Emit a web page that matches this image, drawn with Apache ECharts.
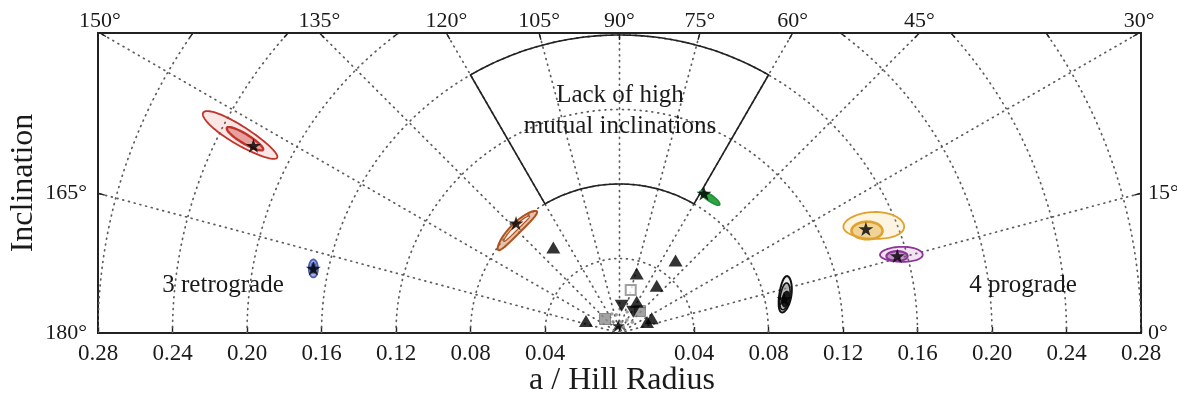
<!DOCTYPE html>
<html><head><meta charset="utf-8">
<script src="https://cdn.jsdelivr.net/npm/echarts@6/dist/echarts.min.js"></script>
<style>html,body{margin:0;padding:0;background:#fff}#c{width:1177px;height:399px}</style>
</head><body><div id="c"></div>
<script>
const FONT = "'Liberation Serif','Times New Roman',serif";
const TXT = '#1a1a1a';

// axes / ticks
const xMin = -0.28, xMax = 0.28, xInterval = 0.04;
const yMax = 0.16107;
const radiusTicks = [0.04, 0.08, 0.12, 0.16, 0.20, 0.24, 0.28];
const angleTicks = [0, 15, 30, 45, 60, 75, 90, 105, 120, 135, 150, 165, 180];

// region lacking high mutual inclinations: [a_in, a_out, inc_min, inc_max]
const gapRegion = [[0.08, 0.16, 60, 120]];

// confidence contours: [a, inclination, half-range a, half-range inc (deg), correlation]
const redContours    = [[0.2297, 152.5, 0.0232, 1.30, -0.29], [0.2265, 152.6, 0.0113, 0.66, -0.28]];
const blueContours   = [[0.1680, 168.1, 0.0026, 1.62, -0.29], [0.1680, 168.0, 0.0015, 0.95, -0.29]];
const brownContours  = [[0.0789, 134.9, 0.0028, 10.7, 0.0], [0.0792, 134.6, 0.0012, 7.0, 0.0]];
const greenContours  = [[0.0873, 56.2, 0.0017, 4.2, 0.0]];
const yellowContours = [[0.1481, 22.94, 0.0153, 3.55, -0.55], [0.1438, 22.5, 0.0079, 2.15, -0.39]];
const purpleContours = [[0.1571, 15.6, 0.0111, 1.80, -0.54], [0.1546, 15.5, 0.0055, 1.09, -0.40]];
const blackContours  = [[0.0914, 13.0, 0.0047, 5.8, 0.68], [0.0910, 12.4, 0.0036, 4.3, 0.66], [0.0912, 11.5, 0.0024, 2.5, 0.5]];

// best fits (stars) and other systems: [a, inclination]
const stars = [[0.2208, 152.9], [0.1680, 168.1], [0.0810, 133.3], [0.0876, 58.8], [0.1436, 22.9], [0.1548, 15.5], [0.0902, 11.7]];
const triUp = [[0.0581, 127.7], [0.0492, 52.3], [0.0333, 73.9], [0.0323, 51.8], [0.0192, 61.2], [0.0191, 160.3], [0.0190, 24.5], [0.0159, 21.8]];
const triDown = [[0.0147, 85.4], [0.0136, 57.1]];
const squaresGray = [[0.0108, 136.0], [0.0161, 47.0]];
const squaresOpen = [[0.0239, 75.4]];
const grayDots = [[0.006, 80], [0.008, 60], [0.010, 100], [0.012, 70], [0.007, 120], [0.009, 40], [0.005, 95], [0.011, 112], [0.004, 60], [0.013, 88]];
const centerStars = [[0.0040, 100]];

const STAR = 'path://M0,-1L0.2245,-0.309L0.951,-0.309L0.363,0.118L0.588,0.809L0,0.382L-0.588,0.809L-0.363,0.118L-0.951,-0.309L-0.2245,-0.309Z';

function contourSeries(data, stroke, fills, widths, z) {
  return {
    type: 'custom', coordinateSystem: 'polar', polarIndex: 0, z: z || 5, silent: true,
    data: data,
    renderItem: function (params, api) {
      const r0 = api.value(0), t0 = api.value(1), dr = api.value(2), dt = api.value(3), rho = api.value(4);
      const s = Math.sqrt(1 - rho * rho);
      const pts = [];
      const n = 90;
      for (let i = 0; i < n; i++) {
        const t = i / n * 2 * Math.PI;
        pts.push(api.coord([r0 + dr * Math.cos(t), t0 + dt * (rho * Math.cos(t) + s * Math.sin(t))]));
      }
      return { type: 'polygon', shape: { points: pts },
        style: { fill: fills[params.dataIndex], stroke: stroke, lineWidth: widths[params.dataIndex] } };
    }
  };
}

function renderGrid(params, api) {
  const cs = params.coordSys;
  const O = api.coord([0, 0]);
  const dot = { stroke: '#5c5c5c', lineWidth: 1.7, lineDash: [0.9, 5.0], lineCap: 'round', fill: 'none' };
  const children = [];
  radiusTicks.forEach(function (r) {
    const R = api.size([r, 0])[0];
    children.push({ type: 'arc', shape: { cx: O[0], cy: O[1], r: R, startAngle: Math.PI, endAngle: 2 * Math.PI, clockwise: true }, style: dot });
  });
  angleTicks.forEach(function (a) {
    if (a === 0 || a === 180) return;
    const rad = a * Math.PI / 180;
    const E = api.coord([Math.cos(rad), Math.sin(rad)]);
    children.push({ type: 'line', shape: { x1: O[0], y1: O[1], x2: E[0], y2: E[1] }, style: dot });
  });
  return { type: 'group', children: children,
    clipPath: { type: 'rect', shape: { x: cs.x, y: cs.y, width: cs.width, height: cs.height } } };
}

function renderFrameTicks(params, api) {
  const O = api.coord([0, 0]);
  const children = [];
  const tickStyle = { stroke: '#222', lineWidth: 1.4 };
  angleTicks.forEach(function (a) {
    const rad = a * Math.PI / 180;
    const c = Math.cos(rad), sn = Math.sin(rad);
    const tTop = sn > 1e-9 ? yMax / sn : Infinity;
    const tSide = Math.abs(c) > 1e-9 ? xMax / Math.abs(c) : Infinity;
    const onTop = tTop <= tSide;
    const t = Math.min(tTop, tSide);
    const P = api.coord([t * c, t * sn]);
    const dx = O[0] - P[0], dy = O[1] - P[1], L = Math.hypot(dx, dy);
    if (a !== 0 && a !== 180) {
      children.push({ type: 'line', shape: { x1: P[0], y1: P[1], x2: P[0] + 7 * dx / L, y2: P[1] + 7 * dy / L }, style: tickStyle });
    }
    let tx, ty, align, va;
    if (onTop) { tx = P[0]; ty = P[1] - 1; align = 'center'; va = 'bottom'; }
    else if (c > 0) { tx = P[0] + 7; ty = P[1]; align = 'left'; va = 'middle'; }
    else { tx = P[0] - 11; ty = P[1]; align = 'right'; va = 'middle'; }
    children.push({ type: 'text', x: tx, y: ty,
      style: { text: a + '°', fontFamily: FONT, fontSize: 22, fill: TXT, align: align, verticalAlign: va } });
  });
  radiusTicks.forEach(function (r) {
    if (r <= yMax) return;
    const xr = Math.sqrt(r * r - yMax * yMax);
    [-xr, xr].forEach(function (x) {
      const P = api.coord([x, yMax]);
      let vx = P[0] - O[0], vy = P[1] - O[1];
      let tx = -vy, ty = vx;
      if (ty < 0) { tx = -tx; ty = -ty; }
      const L = Math.hypot(tx, ty);
      children.push({ type: 'line', shape: { x1: P[0], y1: P[1], x2: P[0] + 6 * tx / L, y2: P[1] + 6 * ty / L }, style: tickStyle });
    });
  });
  return { type: 'group', children: children };
}

const chart = echarts.init(document.getElementById('c'));
chart.setOption({
  animation: false,
  backgroundColor: '#fff',
  grid: { left: 98, right: 36, top: 33, bottom: 66, show: true, borderColor: '#222', borderWidth: 2, backgroundColor: 'transparent' },
  xAxis: {
    type: 'value', min: xMin, max: xMax, interval: xInterval,
    axisLine: { show: true, lineStyle: { color: '#222', width: 2 } },
    axisTick: { show: true, inside: true, length: 6, lineStyle: { color: '#222', width: 1.4 } },
    splitLine: { show: false },
    axisLabel: { fontFamily: FONT, fontSize: 23, color: TXT, margin: 9,
      formatter: function (v) { return Math.abs(v) < 1e-9 ? '' : Math.abs(v).toFixed(2); } }
  },
  yAxis: { type: 'value', min: 0, max: yMax, show: false, splitLine: { show: false } },
  polar: { center: [619.5, 333], radius: 521.5 },
  angleAxis: { type: 'value', min: 0, max: 360, startAngle: 0, clockwise: false, show: false },
  radiusAxis: { type: 'value', min: 0, max: 0.28, show: false },
  graphic: [
    { type: 'text', x: 620, y: 95, z: 50, style: { text: 'Lack of high', fontFamily: FONT, fontSize: 25, fill: TXT, align: 'center', verticalAlign: 'middle' } },
    { type: 'text', x: 620, y: 126, z: 50, style: { text: 'mutual inclinations', fontFamily: FONT, fontSize: 25, fill: TXT, align: 'center', verticalAlign: 'middle' } },
    { type: 'text', x: 223, y: 285, z: 50, style: { text: '3 retrograde', fontFamily: FONT, fontSize: 25, fill: TXT, align: 'center', verticalAlign: 'middle' } },
    { type: 'text', x: 1023, y: 285, z: 50, style: { text: '4 prograde', fontFamily: FONT, fontSize: 25, fill: TXT, align: 'center', verticalAlign: 'middle' } },
    { type: 'text', x: 622, y: 381, z: 50, style: { text: 'a / Hill Radius', fontFamily: FONT, fontSize: 32, fill: TXT, align: 'center', verticalAlign: 'middle' } },
    { type: 'text', x: 24, y: 183, z: 50, rotation: Math.PI / 2, style: { text: 'Inclination', fontFamily: FONT, fontSize: 32, fill: TXT, align: 'center', verticalAlign: 'middle' } }
  ],
  series: [
    { type: 'custom', coordinateSystem: 'cartesian2d', z: 1, silent: true, data: [[0, 0]], renderItem: renderGrid },
    { type: 'custom', coordinateSystem: 'cartesian2d', z: 3, silent: true, data: [[0, 0]], renderItem: renderFrameTicks },
    { type: 'custom', coordinateSystem: 'polar', z: 4, silent: true, data: gapRegion,
      renderItem: function (params, api) {
        const r0 = api.value(0), r1 = api.value(1), a0 = api.value(2), a1 = api.value(3);
        const pts = [], n = 80;
        for (let i = 0; i <= n; i++) pts.push(api.coord([r1, a0 + (a1 - a0) * i / n]));
        for (let i = n; i >= 0; i--) pts.push(api.coord([r0, a0 + (a1 - a0) * i / n]));
        return { type: 'polygon', shape: { points: pts }, style: { fill: 'none', stroke: '#222', lineWidth: 1.6 } };
      } },
    contourSeries(redContours, '#c0342b', ['rgba(214,80,70,0.14)', 'rgba(200,50,45,0.38)'], [1.8, 2.4]),
    contourSeries(blueContours, '#4b5fb3', ['rgba(90,110,195,0.55)', 'rgba(50,70,170,0.9)'], [1.8, 1.2]),
    contourSeries(brownContours, '#b0521f', ['rgba(200,120,70,0.45)', 'rgba(255,245,238,0.95)'], [2.0, 1.2]),
    contourSeries(greenContours, '#23903a', ['#2fa446'], [1.6]),
    contourSeries(yellowContours, '#e0a22e', ['rgba(245,205,120,0.22)', 'rgba(225,170,60,0.45)'], [1.8, 2.6]),
    contourSeries(purpleContours, '#8b3596', ['rgba(175,100,185,0.18)', 'rgba(140,55,150,0.45)'], [1.8, 2.2]),
    contourSeries(blackContours, '#111', ['rgba(200,200,200,0.35)', 'rgba(120,120,120,0.5)', '#1a1a1a'], [2.0, 1.6, 1.2]),
    { type: 'scatter', coordinateSystem: 'polar', z: 9, silent: true, data: grayDots, symbol: 'circle', symbolSize: 3.5, itemStyle: { color: '#888' } },
    { type: 'scatter', coordinateSystem: 'polar', z: 10, silent: true, data: squaresGray, symbol: 'rect', symbolSize: 11, itemStyle: { color: '#8c8c8c', borderColor: '#777', borderWidth: 1 } },
    { type: 'scatter', coordinateSystem: 'polar', z: 10, silent: true, data: squaresOpen, symbol: 'rect', symbolSize: 10, itemStyle: { color: '#fff', borderColor: '#888', borderWidth: 2 } },
    { type: 'scatter', coordinateSystem: 'polar', z: 11, silent: true, data: triUp, symbol: 'triangle', symbolSize: [14, 12], itemStyle: { color: '#000' } },
    { type: 'scatter', coordinateSystem: 'polar', z: 11, silent: true, data: triDown, symbol: 'triangle', symbolRotate: 180, symbolSize: [14, 12], itemStyle: { color: '#000' } },
    { type: 'scatter', coordinateSystem: 'polar', z: 12, silent: true, data: centerStars, symbol: STAR, symbolKeepAspect: true, symbolSize: 13, itemStyle: { color: '#000' } },
    { type: 'scatter', coordinateSystem: 'polar', z: 12, silent: true, data: stars, symbol: STAR, symbolKeepAspect: true, symbolSize: 15, itemStyle: { color: '#000' } }
  ]
});
</script></body></html>
